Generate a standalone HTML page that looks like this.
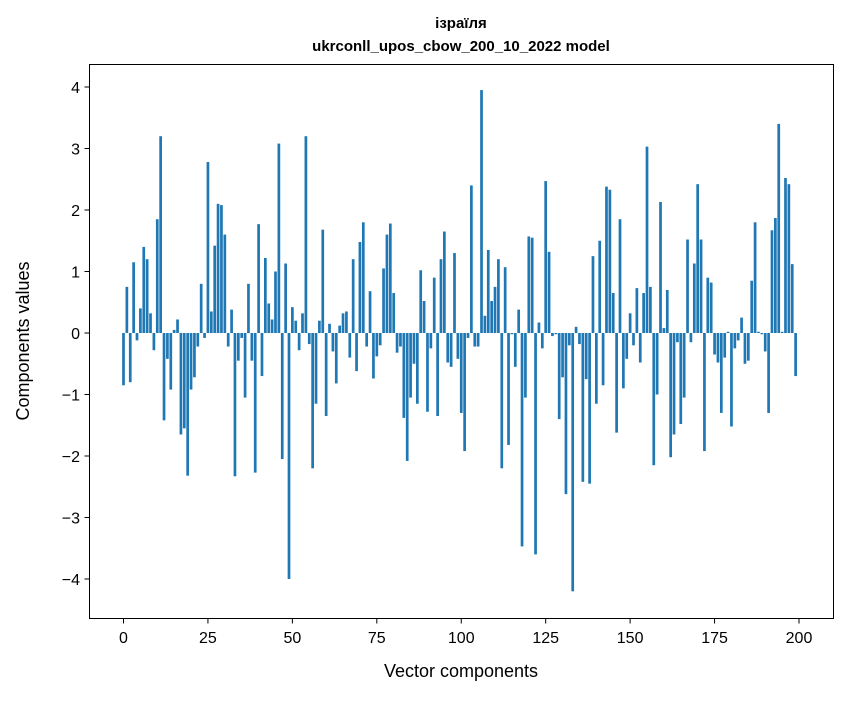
<!DOCTYPE html>
<html><head><meta charset="utf-8"><style>
body{margin:0;background:#fff;}
svg text{font-family:"Liberation Sans","DejaVu Sans",sans-serif;fill:#000;}
</style></head><body>
<svg id="chart" width="847" height="696" xmlns="http://www.w3.org/2000/svg">
<text x="461" y="28" text-anchor="middle" font-size="15" font-weight="bold">ізраїля</text>
<text x="461" y="51" text-anchor="middle" font-size="15" font-weight="bold">ukrconll_upos_cbow_200_10_2022 model</text>
<g id="bars"></g>
<g id="axes"></g>
<rect x="89.5" y="64.5" width="744" height="554" fill="none" stroke="#000" stroke-width="1"/>
<text x="461" y="677" text-anchor="middle" font-size="18">Vector components</text>
<text x="0" y="0" transform="translate(29,341) rotate(-90)" text-anchor="middle" font-size="18">Components values</text>
</svg>
<script>
const values=[-0.85,0.75,-0.8,1.15,-0.12,0.4,1.4,1.2,0.32,-0.28,1.85,3.2,-1.42,-0.42,-0.92,0.05,0.22,-1.65,-1.55,-2.32,
-0.92,-0.72,-0.22,0.8,-0.08,2.78,0.35,1.42,2.1,2.08,1.6,-0.22,0.38,-2.33,-0.45,-0.08,-1.05,0.8,-0.45,-2.27,
1.77,-0.7,1.22,0.48,0.22,1.0,3.08,-2.05,1.13,-4.0,0.42,0.2,-0.28,0.32,3.2,-0.18,-2.2,-1.15,0.2,1.68,
-1.35,0.15,-0.3,-0.82,0.12,0.32,0.35,-0.4,1.2,-0.62,1.48,1.8,-0.22,0.68,-0.74,-0.38,-0.2,1.05,1.6,1.78,
0.65,-0.32,-0.22,-1.38,-2.08,-1.05,-0.5,-1.15,1.02,0.52,-1.28,-0.25,0.9,-1.35,1.2,1.65,-0.48,-0.55,1.3,-0.42,
-1.3,-1.92,-0.08,2.4,-0.22,-0.22,3.95,0.28,1.35,0.52,0.75,1.2,-2.2,1.07,-1.82,-0.02,-0.55,0.38,-3.47,-1.05,
1.57,1.55,-3.6,0.17,-0.25,2.47,1.32,-0.05,-0.02,-1.4,-0.72,-2.62,-0.2,-4.2,0.1,-0.18,-2.42,-0.75,-2.45,1.25,
-1.15,1.5,-0.85,2.38,2.33,0.65,-1.62,1.85,-0.9,-0.42,0.32,-0.2,0.73,-0.48,0.65,3.03,0.75,-2.15,-1.0,2.13,
0.08,0.7,-2.02,-1.65,-0.15,-1.48,-1.05,1.52,-0.15,1.13,2.42,1.52,-1.92,0.9,0.82,-0.35,-0.48,-1.3,-0.4,0.02,
-1.52,-0.25,-0.12,0.25,-0.5,-0.45,0.85,1.8,0.02,-0.02,-0.3,-1.3,1.67,1.87,3.4,0.02,2.52,2.42,1.12,-0.7];
const xTicks=[0,25,50,75,100,125,150,175,200];
const yTicks=[-4,-3,-2,-1,0,1,2,3,4];
const yTickLabels=["\u22124","\u22123","\u22122","\u22121","0","1","2","3","4"];
const NS="http://www.w3.org/2000/svg";
const xs=v=>123.5+v*(799-123.5)/200;
const ys=v=>333-v*61.5;
const bars=document.getElementById('bars');
values.forEach((v,i)=>{
  const r=document.createElementNS(NS,'rect');
  
  
  const w=0.8*(799-123.5)/200;
  r.setAttribute('x',xs(i)-w/2);
  r.setAttribute('width',w);
  r.setAttribute('y',Math.min(ys(v),ys(0)));
  r.setAttribute('height',Math.abs(ys(v)-ys(0)));
  r.setAttribute('fill','#1f77b4');
  bars.appendChild(r);
});
const axes=document.getElementById('axes');
xTicks.forEach(t=>{
  const l=document.createElementNS(NS,'line');
  
  
  l.setAttribute('x1',xs(t));l.setAttribute('x2',xs(t));
  l.setAttribute('y1',618.5);l.setAttribute('y2',623.5);
  l.setAttribute('stroke','#000');
  axes.appendChild(l);
  const tx=document.createElementNS(NS,'text');
  
  
  tx.setAttribute('x',xs(t));tx.setAttribute('y',643);
  tx.setAttribute('text-anchor','middle');tx.setAttribute('font-size','16');
  tx.textContent=t;
  axes.appendChild(tx);
});
yTicks.forEach((t,i)=>{
  const l=document.createElementNS(NS,'line');
  
  
  l.setAttribute('x1',84.5);l.setAttribute('x2',89.5);
  l.setAttribute('y1',ys(t));l.setAttribute('y2',ys(t));
  l.setAttribute('stroke','#000');
  axes.appendChild(l);
  const tx=document.createElementNS(NS,'text');
  
  
  tx.setAttribute('x',80);tx.setAttribute('y',ys(t)+6);
  tx.setAttribute('text-anchor','end');tx.setAttribute('font-size','16');
  tx.textContent=yTickLabels[i];
  axes.appendChild(tx);
});
</script>
</body></html>
